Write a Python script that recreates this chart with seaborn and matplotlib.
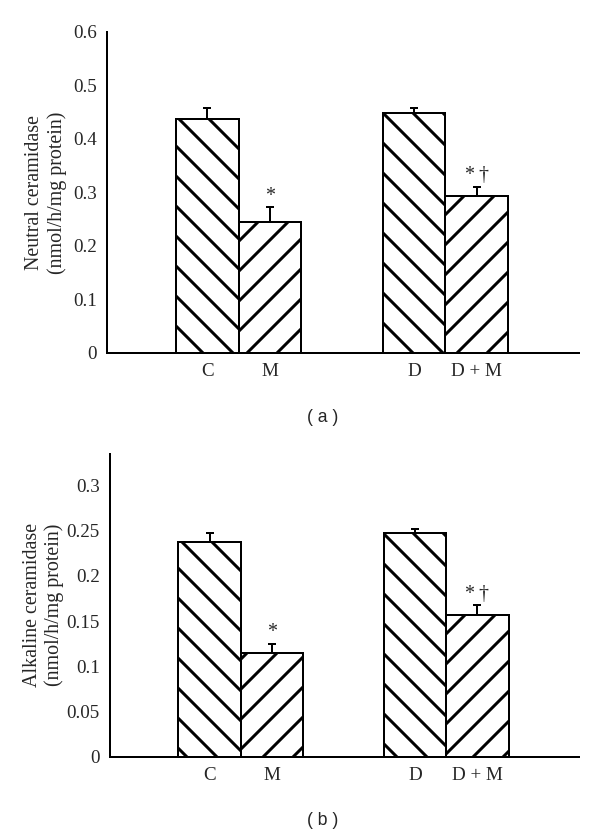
import seaborn as sns
import matplotlib.pyplot as plt
import numpy as np

# data
groups = ["C", "M", "D", "D + M"]
positions = [0, 1, 3.3, 4.3]
hatches = ["\\\\", "//", "\\\\", "//"]
marks = ["", "*", "", "*\u2009\u2020"]

neutral_mean = [0.438, 0.245, 0.449, 0.293]
neutral_sem = [0.019, 0.028, 0.009, 0.018]
neutral_ticks = [0, 0.1, 0.2, 0.3, 0.4, 0.5, 0.6]
neutral_ticklabels = ["0", "0.1", "0.2", "0.3", "0.4", "0.5", "0.6"]

alkaline_mean = [0.238, 0.115, 0.247, 0.157]
alkaline_sem = [0.010, 0.010, 0.005, 0.011]
alkaline_ticks = [0, 0.05, 0.1, 0.15, 0.2, 0.25, 0.3]
alkaline_ticklabels = ["0", "0.05", "0.1", "0.15", "0.2", "0.25", "0.3"]

sns.set_style("white")
plt.rcParams["font.family"] = ["Liberation Serif", "DejaVu Serif"]
plt.rcParams["hatch.linewidth"] = 1.2

DPI = 180
fig = plt.figure(figsize=(600 / DPI, 836 / DPI), dpi=DPI)
ax_a = fig.add_axes([0.1783, 0.5778, 0.7867, 0.3840])
ax_b = fig.add_axes([0.1833, 0.0949, 0.7817, 0.3621])


def draw_panel(ax, means, sems, ticks, ticklabels, ytop, ylabel, label_x):
    sns.barplot(x=positions, y=means, native_scale=True, width=1.0,
                color="white", edgecolor="black", linewidth=0.8,
                errorbar=None, ax=ax)
    for patch, h in zip(ax.patches, hatches):
        patch.set_hatch(h)
        patch.set_facecolor("white")
    ax.errorbar(positions, means, yerr=[np.zeros(len(means)), sems],
                fmt="none", ecolor="black", elinewidth=0.8,
                capsize=1.7, capthick=0.8)
    for x, m, s, t in zip(positions, means, sems, marks):
        if t:
            ax.annotate(t, (x, m + s), xytext=(0, 0.5), textcoords="offset points",
                        ha="center", va="bottom", fontsize=8)
    ax.set_xlim(-1.6, 5.93)
    ax.set_ylim(0, ytop)
    ax.set_xticks(positions)
    ax.set_xticklabels(groups, fontsize=7.6)
    ax.set_yticks(ticks)
    ax.set_yticklabels(ticklabels, fontsize=7.6)
    ax.tick_params(axis="both", length=0)
    ax.tick_params(axis="y", pad=4)
    ax.tick_params(axis="x", pad=4)
    ax.set_xlabel("")
    ax.set_ylabel(ylabel, fontsize=8, linespacing=1.2)
    ax.yaxis.set_label_coords(label_x, 0.5)
    for side in ["top", "right"]:
        ax.spines[side].set_visible(False)
    for side in ["left", "bottom"]:
        ax.spines[side].set_color("black")
        ax.spines[side].set_linewidth(0.8)


draw_panel(ax_a, neutral_mean, neutral_sem, neutral_ticks, neutral_ticklabels,
           0.6, "Neutral ceramidase\n(nmol/h/mg protein)", -0.085)
draw_panel(ax_b, alkaline_mean, alkaline_sem, alkaline_ticks, alkaline_ticklabels,
           0.335, "Alkaline ceramidase\n(nmol/h/mg protein)", -0.097)

fig.text(0.5375, 0.501, "( a )", ha="center", va="center", fontsize=7,
         family="Liberation Sans")
fig.text(0.5375, 0.0183, "( b )", ha="center", va="center", fontsize=7,
         family="Liberation Sans")

fig.savefig("out.png", dpi=DPI)
plt.close(fig)
